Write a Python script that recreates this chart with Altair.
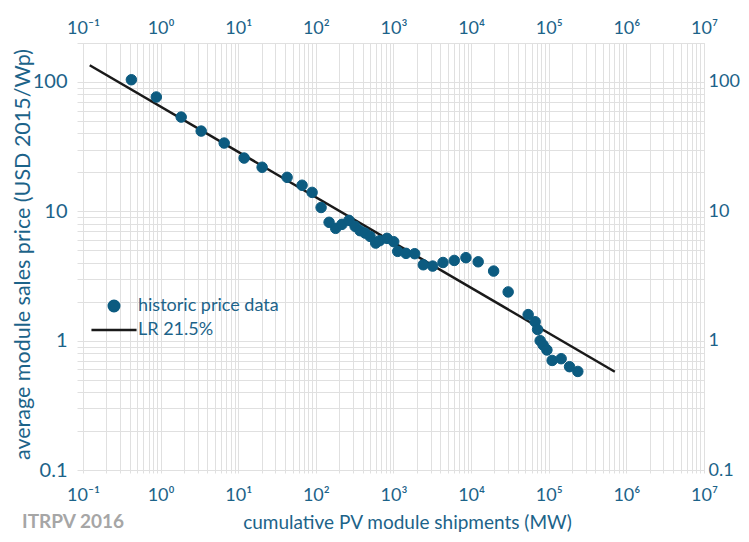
import altair as alt
import pandas as pd

# historic price data
cum_mw = [0.42, 0.88, 1.84, 3.33, 6.59, 11.9, 20.3, 42.6, 66.4, 89.4, 116.7, 148, 180, 217,
          267, 320, 371, 430, 499, 590, 664, 825, 1006, 1133, 1449, 1875, 2420, 3195, 4340,
          6063, 8570, 12330, 19500, 30000, 54300, 66800, 71800, 77500, 84700, 94700, 110600,
          144500, 185300, 236800]
price = [104, 76.5, 53.5, 41.7, 33.7, 25.8, 21.9, 18.3, 15.9, 14.0, 10.7, 8.22, 7.38, 7.93,
         8.51, 7.65, 7.08, 6.79, 6.40, 5.68, 5.93, 6.18, 5.82, 4.90, 4.73, 4.70, 3.86, 3.77, 4.02,
         4.17, 4.38, 4.07, 3.45, 2.38, 1.59, 1.40, 1.22, 1.00, 0.926, 0.847, 0.703, 0.725, 0.629,
         0.578]

# learning-rate line end points
lr_x = [0.122, 710000]
lr_y = [134.7, 0.575]

series_names = ["historic price data", "LR  21.5%"]
x_decades = [0.1, 1, 10, 100, 1000, 10000, 100000, 1000000, 10000000]
x_decade_labels = ["10⁻¹", "10⁰", "10¹", "10²", "10³", "10⁴", "10⁵", "10⁶", "10⁷"]
y_decades = [0.1, 1, 10, 100]
y_decade_labels = ["0.1", "1", "10", "100"]

TEXT = "#1c6389"
DOT = "#0c5b80"
GRID = "#e0e0e0"
FONT = "Lato, 'Noto Sans', sans-serif"

x_minor = [round(m * 10 ** k, 6) for k in range(-1, 7) for m in range(1, 10)] + [1e7]
y_minor = [round(m * 10 ** k, 6) for k in range(-1, 2) for m in range(1, 10)] + [100, 200]


def label_expr(vals, labels):
    e = "''"
    for v, l in reversed(list(zip(vals, labels))):
        e = f"abs(datum.value - {v}) < {v} * 1e-6 ? '{l}' : ({e})"
    return e


pts = pd.DataFrame({"cum": cum_mw, "price": price, "series": series_names[0]})
line_df = pd.DataFrame({"cum": lr_x, "price": lr_y})

xscale = alt.Scale(type="log", domain=[0.1, 1e7], nice=False)
yscale = alt.Scale(type="log", domain=[0.1, 200], nice=False)

points = alt.Chart(pts).mark_point(filled=True, opacity=1, strokeWidth=1, size=110).encode(
    x=alt.X("cum:Q", scale=xscale,
            axis=alt.Axis(orient="bottom", values=x_minor, grid=True, gridColor=GRID,
                          ticks=True, tickSize=3, tickColor=GRID, domain=False,
                          labelExpr=label_expr(x_decades, x_decade_labels),
                          labelOverlap=False, labelFlush=False, labelFontSize=18,
                          labelColor=TEXT, labelFont=FONT, labelPadding=13,
                          title="cumulative PV module shipments (MW)", titleFontSize=19,
                          titleFont=FONT, titleColor=TEXT, titleFontWeight="normal",
                          titleX=324, titleY=52, titleBaseline="middle", titleAnchor="middle")),
    y=alt.Y("price:Q", scale=yscale,
            axis=alt.Axis(orient="left", values=y_minor, grid=True, gridColor=GRID,
                          ticks=True, tickSize=6, tickColor=GRID, domain=False,
                          labelExpr=label_expr(y_decades, y_decade_labels),
                          labelOverlap=False, labelFlush=False, labelFontSize=20,
                          labelColor=TEXT, labelFont=FONT, labelPadding=10,
                          title="average module sales price (USD 2015/Wp)", titleFontSize=21.5,
                          titleFont=FONT, titleColor=TEXT, titleFontWeight="normal",
                          titleX=-60, titleY=211, titleBaseline="middle", titleAnchor="middle")),
    color=alt.Color("series:N", scale=alt.Scale(domain=series_names, range=[DOT, "#1a1a1a"]),
                    legend=alt.Legend(title=None, orient="none", legendX=22, legendY=254,
                                      labelFont=FONT, labelFontSize=18, labelColor=TEXT,
                                      symbolSize=110, symbolStrokeWidth=2.5, labelOffset=15,
                                      padding=0, rowPadding=4)),
    stroke=alt.Stroke("series:N", scale=alt.Scale(domain=series_names, range=[DOT, "#1a1a1a"])),
    shape=alt.Shape("series:N", scale=alt.Scale(domain=series_names,
                                                range=["circle", "M-4.3,0H4.3"])),
)

lr_line = alt.Chart(line_df).mark_line(color="#1a1a1a", strokeWidth=2.5).encode(
    x=alt.X("cum:Q", scale=xscale,
            axis=alt.Axis(orient="top", values=x_decades, grid=False, ticks=False, domain=False,
                          labelExpr=label_expr(x_decades, x_decade_labels),
                          labelOverlap=False, labelFlush=False, labelFontSize=18,
                          labelColor=TEXT, labelFont=FONT, labelPadding=6, title=None)),
    y=alt.Y("price:Q", scale=yscale,
            axis=alt.Axis(orient="right", values=y_decades, grid=False, ticks=False, domain=False,
                          labelExpr=label_expr(y_decades, y_decade_labels),
                          labelOverlap=False, labelFlush=False, labelFontSize=18,
                          labelColor=TEXT, labelFont=FONT, labelPadding=4, title=None)),
)

source = alt.Chart(pd.DataFrame({"t": ["ITRPV 2016"]})).mark_text(
    align="left", baseline="middle", font=FONT, fontSize=19, fontWeight="bold", color="#a6a6a6"
).encode(text="t:N", x=alt.value(-61), y=alt.value(479))

chart = alt.layer(lr_line, points, source).resolve_axis(
    x="independent", y="independent"
).properties(
    width=621, height=427,
    autosize=alt.AutoSizeParams(type="none"),
    padding={"left": 75, "top": 35, "right": 37, "bottom": 64},
).configure_view(stroke=None).configure(background="white")

chart.save("out.html", embed_options={"renderer": "svg", "actions": False})
